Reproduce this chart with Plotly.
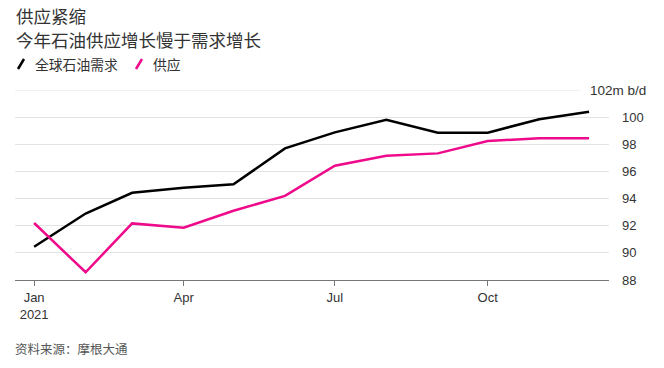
import plotly.graph_objects as go

months = ["2021-01-01", "2021-02-01", "2021-03-01", "2021-04-01", "2021-05-01", "2021-06-01",
          "2021-07-01", "2021-08-01", "2021-09-01", "2021-10-01", "2021-11-01", "2021-12-01"]
demand = [90.45, 92.9, 94.43, 94.8, 95.05, 97.7, 98.88, 99.8, 98.85, 98.85, 99.85, 100.4]
supply = [92.2, 88.57, 92.17, 91.85, 93.1, 94.2, 96.42, 97.16, 97.33, 98.24, 98.44, 98.44]

x_tickvals = ["2021-01-01", "2021-04-01", "2021-07-01", "2021-10-01"]
x_ticktext = ["Jan<br>2021", "Apr", "Jul", "Oct"]
y_tickvals = [88, 90, 92, 94, 96, 98, 100]
y_top_label = "102m b/d"

title = "供应紧缩"
subtitle = "今年石油供应增长慢于需求增长"
name_demand = "全球石油需求"
name_supply = "供应"
source = "资料来源：摩根大通"

BLACK = "#000000"
PINK = "#ee0a8a"
FONT = "Liberation Sans, Arial, Noto Sans CJK SC, sans-serif"
CJK = "Noto Sans CJK SC, sans-serif"

fig = go.Figure()
fig.add_trace(go.Scatter(x=months, y=demand, mode="lines", name=name_demand,
                         line=dict(color=BLACK, width=2.5), showlegend=False))
fig.add_trace(go.Scatter(x=months, y=supply, mode="lines", name=name_supply,
                         line=dict(color=PINK, width=2.5), showlegend=False))

W, H = 664, 368
L, R, T, B = 15, 55, 90, 88
pw = W - L - R


def px(xp):
    return (xp - L) / pw


def py(yp):
    return (H - B - yp) / (H - T - B)


fig.update_layout(
    width=W, height=H,
    margin=dict(l=L, r=R, t=T, b=B),
    paper_bgcolor="white", plot_bgcolor="white",
    font=dict(family=FONT, size=13, color="#333333"),
    xaxis=dict(
        type="date", range=["2020-12-20 12:00", "2021-12-13"],
        tickvals=x_tickvals, ticktext=x_ticktext,
        showgrid=False, showline=True, linecolor="#777777", linewidth=1,
        ticks="outside", ticklen=5, tickcolor="#777777",
        tickfont=dict(size=13, color="#333333", family=FONT),
        zeroline=False,
    ),
    yaxis=dict(
        side="right", range=[88, 102], tickvals=y_tickvals,
        showgrid=True, gridcolor="#e3e3e3", gridwidth=1,
        ticks="", ticklabelstandoff=12,
        tickfont=dict(size=13, color="#333333", family=FONT),
        zeroline=False, showline=False,
    ),
)

# top gridline with unit label
fig.add_shape(type="line", xref="paper", yref="y", x0=0, x1=px(580), y0=102, y1=102,
              line=dict(color="#e3e3e3", width=1), layer="below")
fig.add_annotation(xref="paper", yref="y", x=px(648), y=102, xanchor="right", yanchor="middle",
                   text=y_top_label, showarrow=False,
                   font=dict(size=13.5, color="#333333", family=FONT))

# titles
fig.add_annotation(xref="paper", yref="paper", x=px(14), y=py(16), xanchor="left", yanchor="middle",
                   text=title, showarrow=False, font=dict(size=17.5, color="#333333", family=CJK))
fig.add_annotation(xref="paper", yref="paper", x=px(14), y=py(39), xanchor="left", yanchor="middle",
                   text=subtitle, showarrow=False, font=dict(size=17.5, color="#333333", family=CJK))

# custom legend
fig.add_shape(type="line", xref="paper", yref="paper", x0=px(18), y0=py(69), x1=px(24), y1=py(59),
              line=dict(color=BLACK, width=2.5))
fig.add_annotation(xref="paper", yref="paper", x=px(33), y=py(64), xanchor="left", yanchor="middle",
                   text=name_demand, showarrow=False, font=dict(size=13.8, color="#333333", family=CJK))
fig.add_shape(type="line", xref="paper", yref="paper", x0=px(136), y0=py(69), x1=px(142), y1=py(59),
              line=dict(color=PINK, width=2.5))
fig.add_annotation(xref="paper", yref="paper", x=px(151), y=py(64), xanchor="left", yanchor="middle",
                   text=name_supply, showarrow=False, font=dict(size=13.8, color="#333333", family=CJK))

# source
fig.add_annotation(xref="paper", yref="paper", x=px(13), y=py(348), xanchor="left", yanchor="middle",
                   text=source, showarrow=False, font=dict(size=12.5, color="#555555", family=CJK))

fig.write_html("out.html", config={"displayModeBar": False},
               post_script="document.body.style.margin='0';document.body.style.padding='0';")
